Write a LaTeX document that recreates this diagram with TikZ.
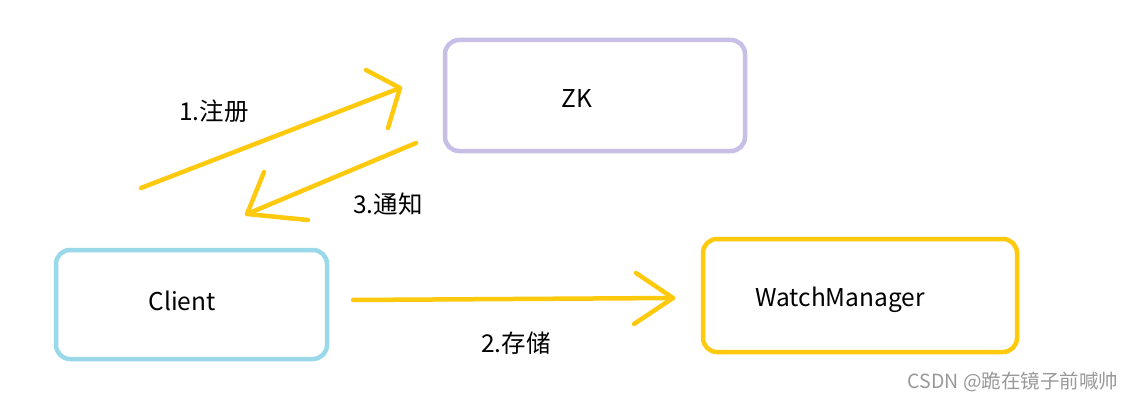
\documentclass[tikz,border=0pt]{standalone}
\usepackage{fontspec}
\setmainfont{Noto Sans CJK SC}
\begin{document}
\begin{tikzpicture}[x=1pt,y=-1pt,
  box/.style={draw,line width=4.5pt,rounded corners=14pt,inner sep=0pt},
  lbl/.style={font=\fontsize{24.5}{28}\selectfont,text=black},
  arr/.style={draw=arrowc,line width=4.5pt,line cap=round,line join=round}]
\definecolor{arrowc}{HTML}{FFC90E}
\definecolor{zkc}{HTML}{C8BFE7}
\definecolor{clc}{HTML}{99D9EA}
\useasboundingbox[fill=white] (0,0) rectangle (1134,401);
% boxes
\draw[box,draw=zkc] (445,40) rectangle (745,151);
\draw[box,draw=clc] (56,250) rectangle (327,359);
\draw[box,draw=arrowc] (703,239) rectangle (1017,352);
\node[lbl] (zk) at (577,99) {ZK};
\node[lbl] (client) at (182,301) {Client};
\node[lbl] (wm) at (840,300) {WatchManager};
% arrows
\coordinate (a1s) at (141,188); \coordinate (a1e) at (400,88);
\coordinate (a1l) at (366,70); \coordinate (a1r) at (388,128);
\coordinate (a3s) at (416,143); \coordinate (a3e) at (247,214);
\coordinate (a3l) at (264,172); \coordinate (a3r) at (308,220);
\coordinate (a2s) at (353,300); \coordinate (a2e) at (673,298);
\coordinate (a2l) at (636,273); \coordinate (a2r) at (634,324);
\draw[arr] (a1s) -- (a1e);
\draw[arr] (a1l) -- (a1e) -- (a1r);
\draw[arr] (a3s) -- (a3e);
\draw[arr] (a3l) -- (a3e) -- (a3r);
\draw[arr] (a2s) -- (a2e);
\draw[arr] (a2l) -- (a2e) -- (a2r);
% labels
\node[lbl] (l1) at (214,111) {1.注册};
\node[lbl] (l3) at (388,204) {3.通知};
\node[lbl] (l2) at (516,343) {2.存储};
\node[font=\fontsize{19.5}{22}\selectfont,text=black!40] (wmk) at (1013,382) {CSDN @跪在镜子前喊帅};
\end{tikzpicture}
\end{document}
